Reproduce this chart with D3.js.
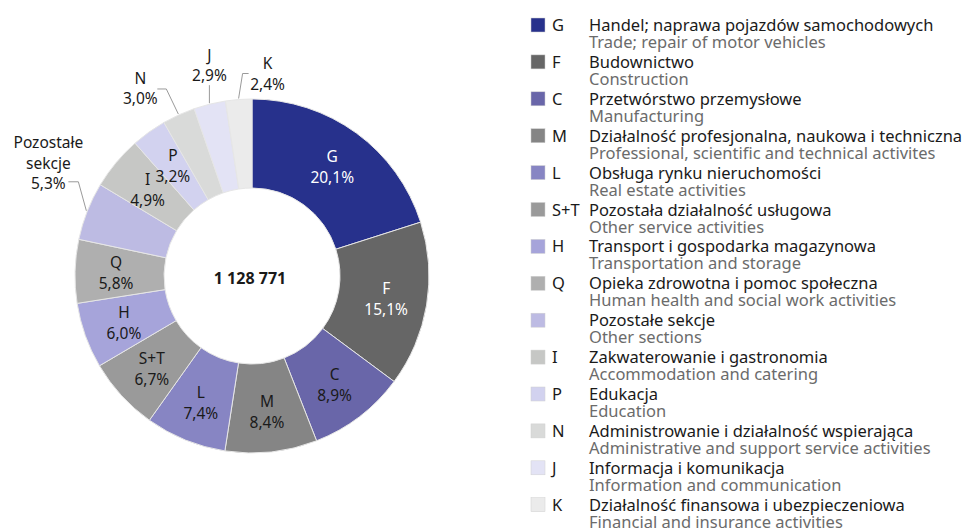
<!DOCTYPE html>
<html>
<head>
<meta charset="utf-8">
<script src="https://cdn.jsdelivr.net/npm/d3@7"></script>
<style>
  body { margin: 0; background: #fff; }
  svg { font-family: "Noto Sans", "Open Sans", sans-serif; }
</style>
</head>
<body>
<svg id="drawing_region"></svg>
<script>
// sections, clockwise from 12 o'clock
const codes = ["G", "F", "C", "M", "L", "S+T", "H", "Q", "", "I", "P", "N", "J", "K"];
const shares = [20.1, 15.1, 8.9, 8.4, 7.4, 6.7, 6.0, 5.8, 5.3, 4.9, 3.2, 3.0, 2.9, 2.4];
const shareLabels = ["20,1%", "15,1%", "8,9%", "8,4%", "7,4%", "6,7%", "6,0%", "5,8%", "5,3%", "4,9%", "3,2%", "3,0%", "2,9%", "2,4%"];
const namesPl = [
    "Handel; naprawa pojazdów samochodowych",
    "Budownictwo",
    "Przetwórstwo przemysłowe",
    "Działalność profesjonalna, naukowa i techniczna",
    "Obsługa rynku nieruchomości",
    "Pozostała działalność usługowa",
    "Transport i gospodarka magazynowa",
    "Opieka zdrowotna i pomoc społeczna",
    "Pozostałe sekcje",
    "Zakwaterowanie i gastronomia",
    "Edukacja",
    "Administrowanie i działalność wspierająca",
    "Informacja i komunikacja",
    "Działalność finansowa i ubezpieczeniowa"
];
const namesEn = [
    "Trade; repair of motor vehicles",
    "Construction",
    "Manufacturing",
    "Professional, scientific and technical activites",
    "Real estate activities",
    "Other service activities",
    "Transportation and storage",
    "Human health and social work activities",
    "Other sections",
    "Accommodation and catering",
    "Education",
    "Administrative and support service activities",
    "Information and communication",
    "Financial and insurance activities"
];
const total = "1 128 771";

const colors = ["#27318c", "#666666", "#6966a9", "#858585", "#8785c3", "#9a9a9a", "#a6a4da",
                "#afafaf", "#bdbbe3", "#c6c7c5", "#d2d2ef", "#d9dad9", "#e3e3f5", "#ebebeb"];

// slices whose label sits outside, with a leader line
const outside = {
    "Pozostałe sekcje": { elbow: [-8, -29], tail: -10, lines: ["Pozostałe", "sekcje"], tx: -20, ty: [-34, -13, 7] },
    "N": { elbow: [-12, -25], tail: -9, tx: -17, ty: [-5, 15] },
    "J": { elbow: [0, -18], tail: 0, tx: 0, ty: [-24, -4] },
    "K": { elbow: [4, -25], tail: 6, tx: 19, ty: [-5, 16] }
};

const data = codes.map((c, i) => ({
    code: c, share: shares[i], label: shareLabels[i],
    pl: namesPl[i], en: namesEn[i], color: colors[i],
    key: c === "" ? namesPl[i] : c
}));

const config = {
    width: 974,
    height: 529,
    cx: 252,
    cy: 276,
    inner: 88,
    outer: 177
};

const svg = d3.select('#drawing_region')
    .attr('width', config.width)
    .attr('height', config.height);

const pie = d3.pie().value(d => d.share).sort(null);
const arc = d3.arc().innerRadius(config.inner).outerRadius(config.outer);
const labelArc = d3.arc().innerRadius(136).outerRadius(136);
const edgeArc = d3.arc().innerRadius(config.outer + 1).outerRadius(config.outer + 1);

const chart = svg.append('g')
    .attr('transform', `translate(${config.cx}, ${config.cy})`);

const arcs = pie(data);

chart.selectAll('path')
    .data(arcs)
    .enter()
    .append('path')
    .attr('d', arc)
    .attr('fill', d => d.data.color)
    .attr('stroke', '#e6e6e6')
    .attr('stroke-width', 1);

// labels inside the ring
arcs.filter(d => !outside[d.data.key]).forEach(d => {
    const [x, y] = labelArc.centroid(d);
    const dark = d.data.code === "G" || d.data.code === "F";
    const t = chart.append('text')
        .attr('text-anchor', 'middle')
        .attr('font-size', '15.5px')
        .attr('fill', dark ? '#ffffff' : '#1a1a1a');
    t.append('tspan').attr('x', x).attr('y', y - 4).text(d.data.code);
    t.append('tspan').attr('x', x).attr('y', y + 17).text(d.data.label);
});

// labels outside the ring
arcs.filter(d => outside[d.data.key]).forEach(d => {
    const o = outside[d.data.key];
    const [ex, ey] = edgeArc.centroid(d);
    const bx = ex + o.elbow[0], by = ey + o.elbow[1];
    const tx = bx + o.tail;
    chart.append('polyline')
        .attr('points', `${ex},${ey} ${bx},${by} ${tx},${by}`)
        .attr('fill', 'none')
        .attr('stroke', '#9a9a9a')
        .attr('stroke-width', 1);
    const lines = (o.lines || [d.data.code]).concat([d.data.label]);
    const t = chart.append('text')
        .attr('text-anchor', 'middle')
        .attr('font-size', '15.5px')
        .attr('fill', '#1a1a1a');
    lines.forEach((s, i) => {
        t.append('tspan').attr('x', tx + o.tx).attr('y', by + o.ty[i]).text(s);
    });
});

chart.append('text')
    .attr('text-anchor', 'middle')
    .attr('x', -2)
    .attr('y', 8)
    .attr('font-size', '16px')
    .attr('font-weight', 'bold')
    .attr('fill', '#1a1a1a')
    .text(total);

// legend
const legend = svg.append('g').attr('transform', 'translate(531, 0)');
const rows = legend.selectAll('g')
    .data(data)
    .enter()
    .append('g')
    .attr('transform', (d, i) => `translate(0, ${31 + i * 36.9})`);

rows.append('rect')
    .attr('x', 0).attr('y', -13)
    .attr('width', 14).attr('height', 14)
    .attr('fill', d => d.color)
    .attr('stroke', '#d0d0d0')
    .attr('stroke-width', 0.5);

rows.append('text')
    .attr('x', 21).attr('y', 0)
    .attr('font-size', '16.5px')
    .attr('fill', '#1a1a1a')
    .text(d => d.code);

rows.append('text')
    .attr('x', 58).attr('y', 0)
    .attr('font-size', '16.5px')
    .attr('fill', '#1a1a1a')
    .text(d => d.pl);

rows.append('text')
    .attr('x', 58).attr('y', 17)
    .attr('font-size', '16.5px')
    .attr('fill', '#6b6b6b')
    .text(d => d.en);
</script>
</body>
</html>
